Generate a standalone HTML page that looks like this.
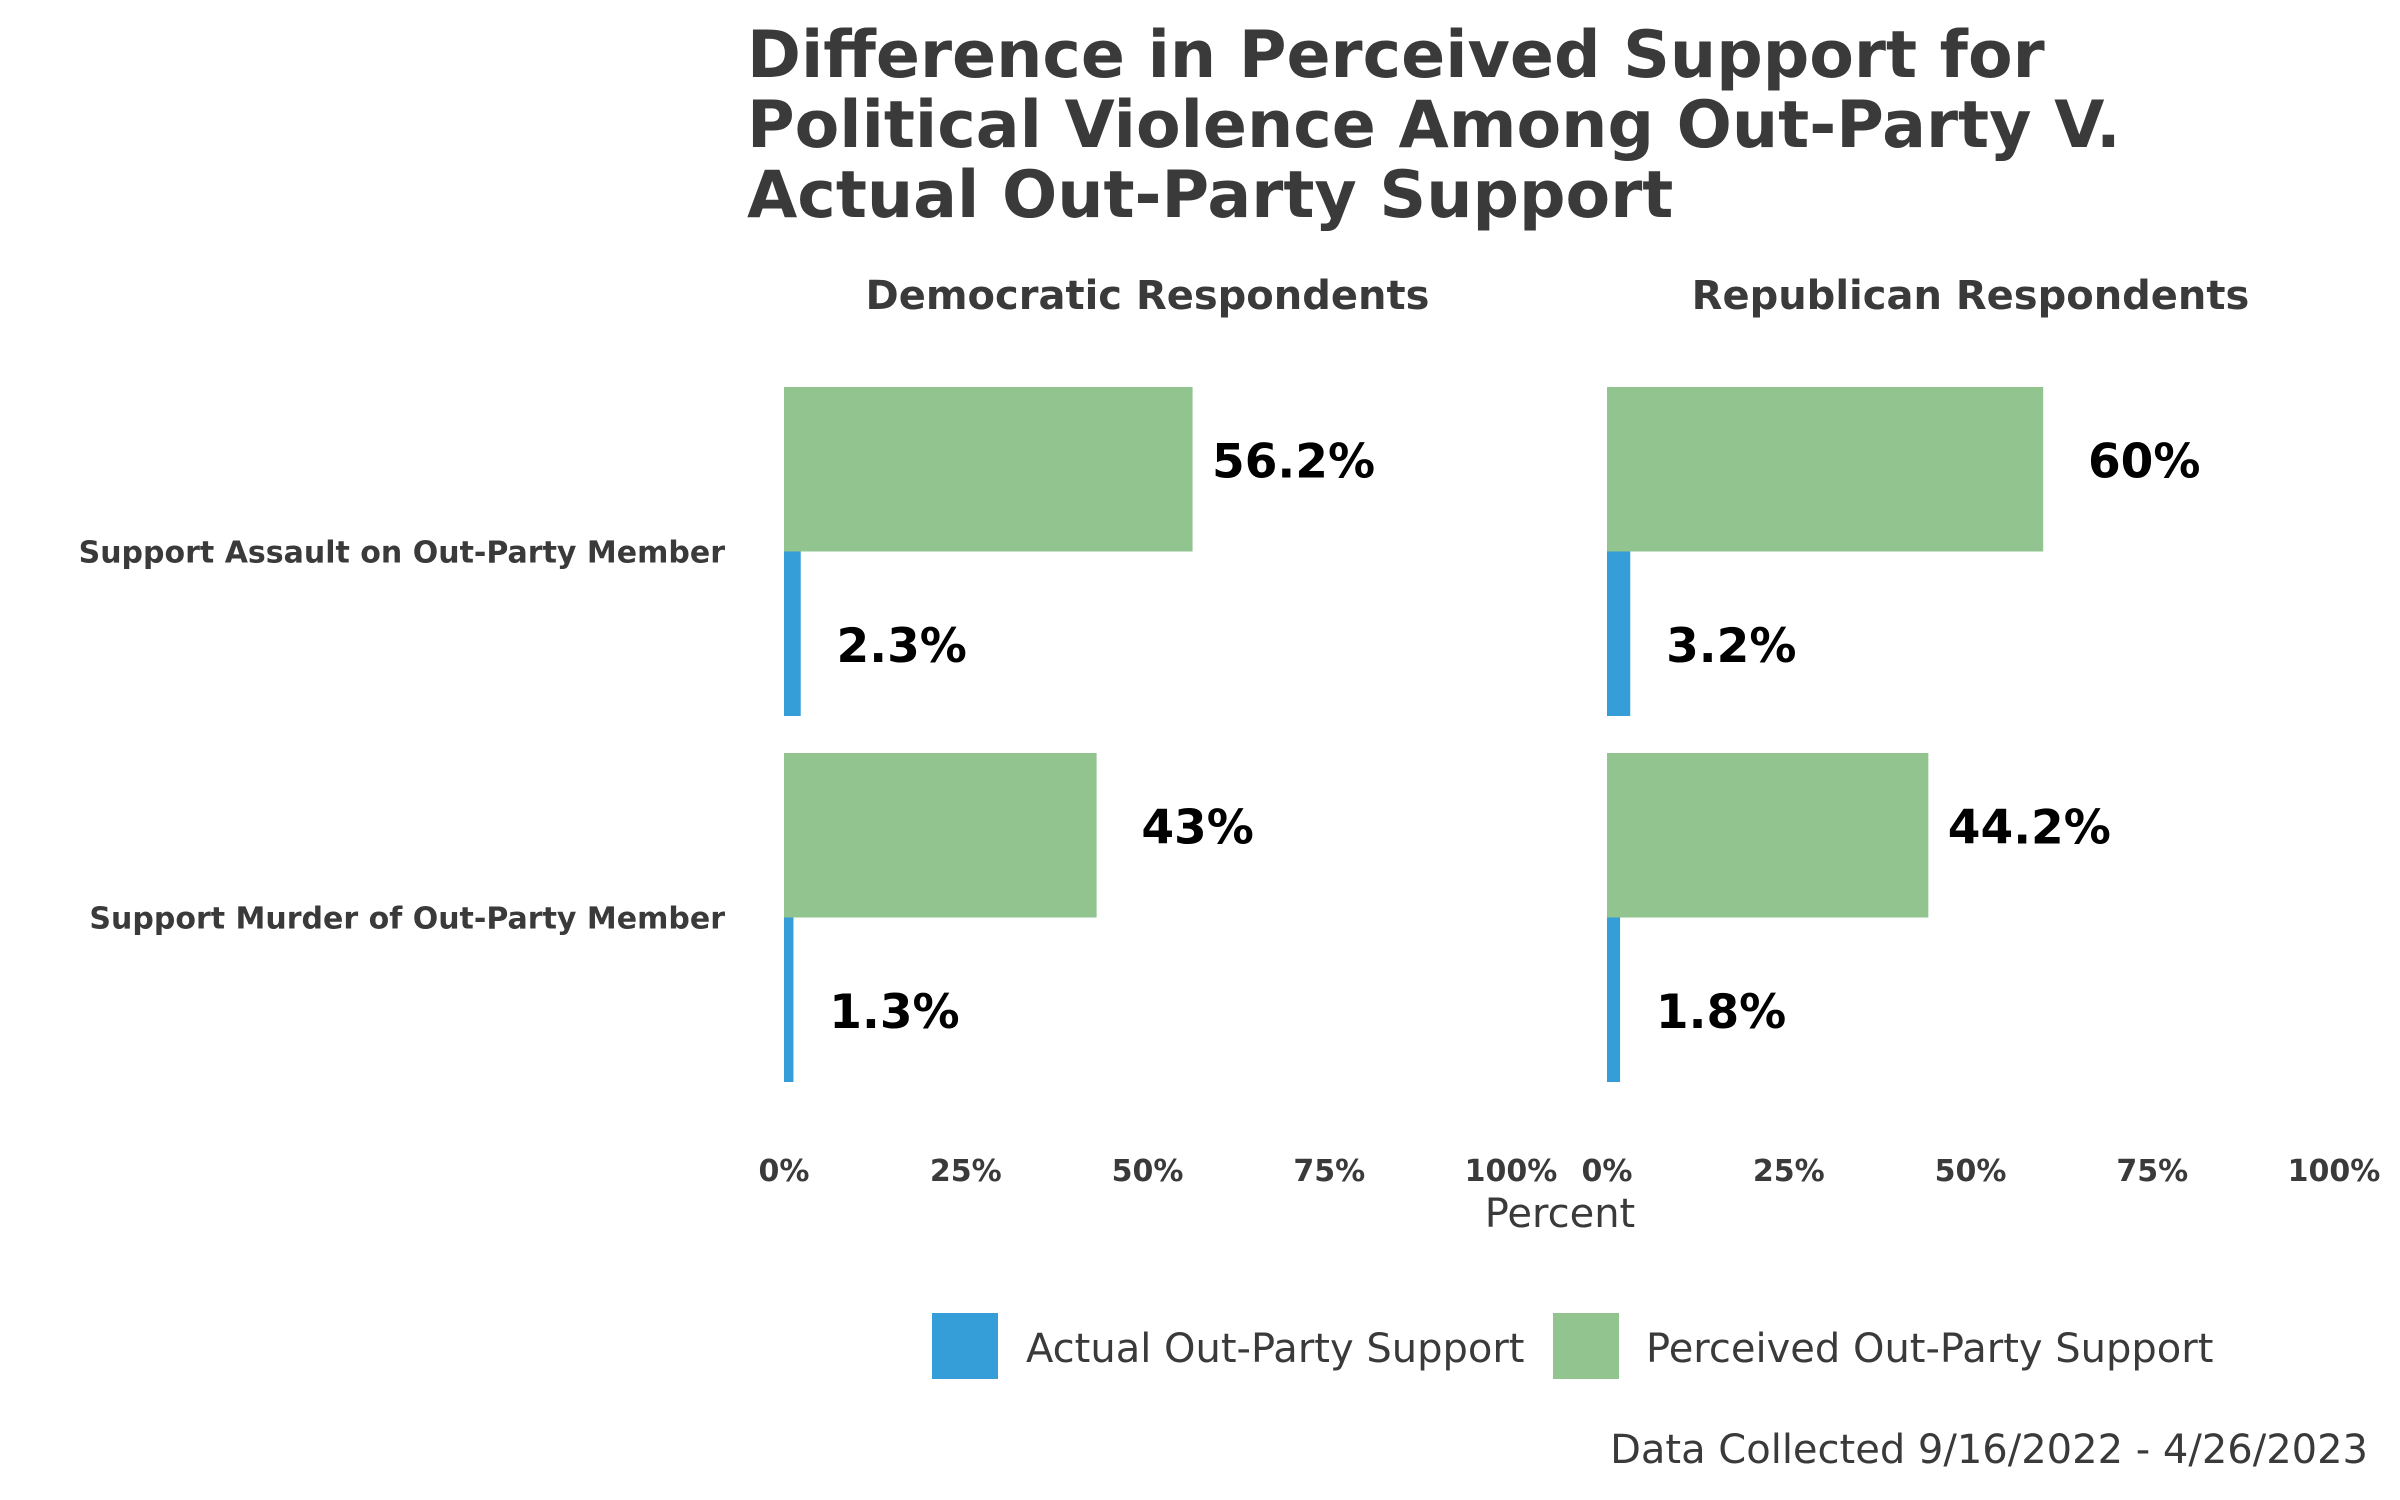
<!DOCTYPE html>
<html><head><meta charset="utf-8"><style>
html,body{margin:0;padding:0;background:#fff}
svg{display:block;font-family:"DejaVu Sans","Liberation Sans",sans-serif}
</style></head><body>
<svg id="chart" width="2400" height="1500" viewBox="0 0 2400 1500">
<g fill="#3a3a3a" font-weight="bold" font-size="65">
<text x="747" y="77">Difference in Perceived Support for</text>
<text x="747" y="147">Political Violence Among Out-Party V.</text>
<text x="747" y="217">Actual Out-Party Support</text>
</g>
<g id="panels"></g>
<text x="1560" y="1227" font-size="40" fill="#3a3a3a" text-anchor="middle">Percent</text>
<g>
<rect x="932" y="1313" width="66" height="66" fill="#359ed9"/>
<text x="1026" y="1362" font-size="40" fill="#3a3a3a">Actual Out-Party Support</text>
<rect x="1553" y="1313" width="66" height="66" fill="#92c48f"/>
<text x="1646" y="1362" font-size="40" fill="#3a3a3a">Perceived Out-Party Support</text>
</g>
<text x="2368" y="1463" font-size="40" fill="#3a3a3a" text-anchor="end">Data Collected 9/16/2022 - 4/26/2023</text>
</svg>
<script>
const panelTitles = ["Democratic Respondents", "Republican Respondents"];
const categories = ["Support Assault on Out-Party Member", "Support Murder of Out-Party Member"];
const perceived = [[56.2, 43], [60, 44.2]];
const actual = [[2.3, 1.3], [3.2, 1.8]];
const perceivedLabels = [["56.2%", "43%"], ["60%", "44.2%"]];
const actualLabels = [["2.3%", "1.3%"], ["3.2%", "1.8%"]];
const ticks = [0, 25, 50, 75, 100];

const NS = "http://www.w3.org/2000/svg";
const g = document.getElementById("panels");
const panelX0 = [784, 1607], panelW = 727;
const rowTop = [387, 753], barH = 164.5;
function xScale(p, v) { return panelX0[p] + v / 100 * panelW; }
function mk(tag, attrs, text) {
  const e = document.createElementNS(NS, tag);
  for (const k in attrs) e.setAttribute(k, attrs[k]);
  if (text !== undefined) e.textContent = text;
  g.appendChild(e);
  return e;
}
categories.forEach((c, i) => {
  const t = mk("text", {x: 725, y: rowTop[i] + barH + 11, "font-size": 30, "font-weight": "bold", fill: "#3a3a3a", "text-anchor": "end"}, c);
  
  
});
panelTitles.forEach((pt, p) => {
  const t = mk("text", {x: panelX0[p] + panelW / 2, y: 309, "font-size": 40, "font-weight": "bold", fill: "#3a3a3a", "text-anchor": "middle"}, pt);
  
  
  ticks.forEach(tv => {
    const tk = mk("text", {x: xScale(p, tv), y: 1181, "font-size": 30, "font-weight": "bold", fill: "#3a3a3a", "text-anchor": "middle"}, tv + "%");
    
    
  });
  categories.forEach((c, i) => {
    const y0 = rowTop[i];
    const gb = mk("rect", {x: xScale(p, 0), y: y0, width: xScale(p, perceived[p][i]) - xScale(p, 0), height: barH, fill: "#92c48f"});
    
    
    const bb = mk("rect", {x: xScale(p, 0), y: y0 + barH, width: xScale(p, actual[p][i]) - xScale(p, 0), height: barH, fill: "#359ed9"});
    
    
    const gl = mk("text", {x: xScale(p, perceived[p][i]) + 101, y: y0 + barH / 2 + 8, "font-size": 47, "font-weight": "bold", fill: "#000", "text-anchor": "middle"}, perceivedLabels[p][i]);
    
    
    const bl = mk("text", {x: xScale(p, actual[p][i]) + 101, y: y0 + barH * 1.5 + 28, "font-size": 47, "font-weight": "bold", fill: "#000", "text-anchor": "middle"}, actualLabels[p][i]);
    
    
  });
});
</script>
</body></html>
